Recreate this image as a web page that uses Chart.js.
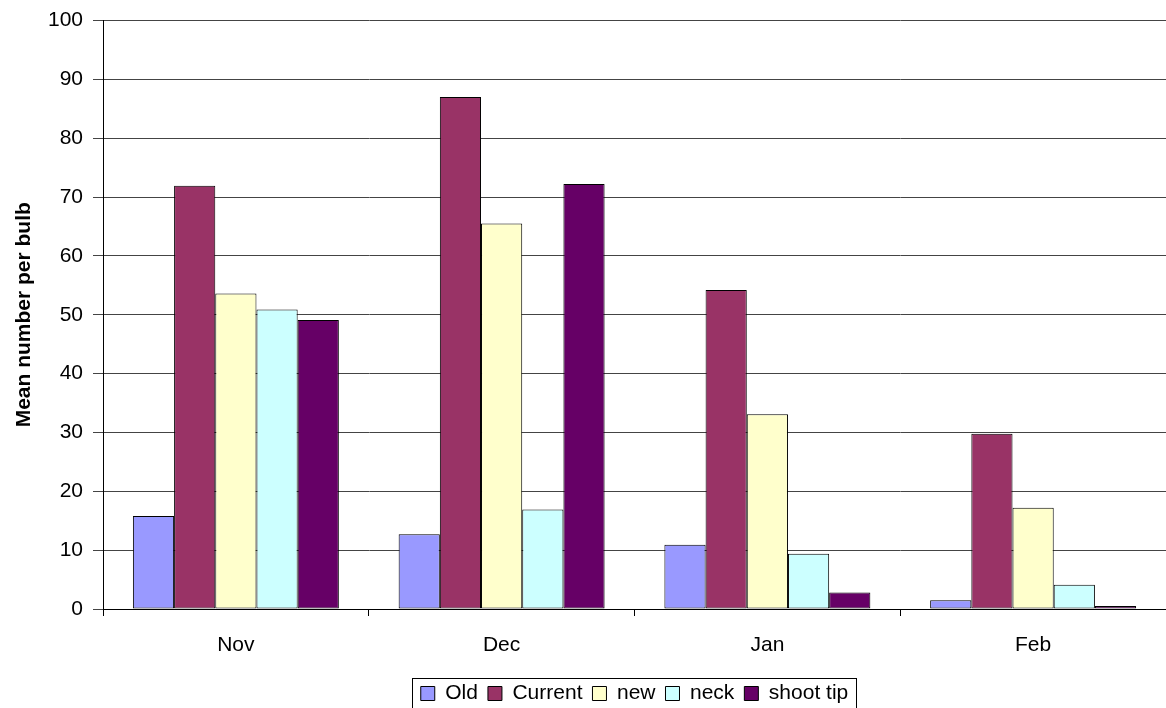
<!DOCTYPE html>
<html>
<head>
<meta charset="utf-8">
<script src="https://cdn.jsdelivr.net/npm/chart.js@4/dist/chart.umd.min.js"></script>
<style>
  html, body { margin: 0; padding: 0; background: #fff; overflow: hidden; }
  #wrap { width: 1166px; height: 714px; }
</style>
</head>
<body>
<div id="wrap"><canvas id="bulbChart" width="1166" height="714"></canvas></div>
<script>
// months sampled
const months = ['Nov', 'Dec', 'Jan', 'Feb'];

// mean number per bulb, one array per tissue
const oldVals      = [15.8, 12.7, 10.9, 1.5];
const currentVals  = [71.9, 87.0, 54.2, 29.8];
const newVals      = [53.6, 65.5, 33.1, 17.2];
const neckVals     = [50.9, 16.9, 9.4, 4.1];
const shootTipVals = [49.1, 72.2, 2.8, 0.5];

const yTicks = [0, 10, 20, 30, 40, 50, 60, 70, 80, 90, 100];

const FONT = "'Liberation Sans', Arial, sans-serif";

function bar(label, data, color) {
    return {
        label: label,
        data: data,
        backgroundColor: color,
        borderColor: '#000',
        borderWidth: 1,
        borderSkipped: false,
        categoryPercentage: 0.775,
        barPercentage: 1.0
    };
}

// legend centred under the plot area, with a frame round it
const legendFrame = {
    id: 'legendFrame',
    afterUpdate(chart) {
        const lg = chart.legend;
        const area = chart.chartArea;
        lg.left = area.left;
        lg.right = area.right;
        lg.width = area.right - area.left;
        lg.adjustHitBoxes();
    },
    afterDraw(chart) {
        const boxes = chart.legend.legendHitBoxes;
        if (!boxes || !boxes.length) return;
        const left = Math.min(...boxes.map(b => b.left)) - 9;
        const right = Math.max(...boxes.map(b => b.left + b.width)) + 8;
        const ctx = chart.ctx;
        ctx.save();
        ctx.strokeStyle = '#000';
        ctx.lineWidth = 1;
        ctx.strokeRect(Math.round(left) + 0.5, 678.5, Math.round(right - left), 40);
        ctx.restore();
    }
};

const ctx = document.getElementById('bulbChart').getContext('2d');
new Chart(ctx, {
    type: 'bar',
    data: {
        labels: months,
        datasets: [
            bar('Old', oldVals, '#9999FF'),
            bar('Current', currentVals, '#993366'),
            bar('new', newVals, '#FFFFCC'),
            bar('neck', neckVals, '#CCFFFF'),
            bar('shoot tip', shootTipVals, '#660066')
        ]
    },
    options: {
        responsive: false,
        animation: false,
        layout: { padding: { top: 19, right: 0, bottom: 0, left: 0 } },
        plugins: {
            legend: {
                position: 'bottom',
                labels: {
                    color: '#000',
                    font: { family: FONT, size: 21 },
                    boxWidth: 14,
                    boxHeight: 14,
                    padding: 10
                }
            },
            tooltip: { enabled: false }
        },
        scales: {
            x: {
                grid: {
                    display: true,
                    drawOnChartArea: false,
                    drawTicks: true,
                    tickLength: 7,
                    color: '#000'
                },
                border: { display: true, color: '#000', width: 1 },
                ticks: {
                    color: '#000',
                    font: { family: FONT, size: 21 },
                    padding: 17
                },
                afterFit(scale) { scale.height = 64; }
            },
            y: {
                min: 0,
                max: 100,
                afterBuildTicks(scale) {
                    scale.ticks = yTicks.map(v => ({ value: v }));
                },
                grid: {
                    color: '#444',
                    lineWidth: 1,
                    drawTicks: true,
                    tickLength: 10
                },
                border: { display: true, color: '#000', width: 1 },
                ticks: {
                    color: '#000',
                    font: { family: FONT, size: 21, lineHeight: 1 },
                    padding: 10
                },
                title: {
                    display: true,
                    text: 'Mean number per bulb',
                    color: '#000',
                    font: { family: FONT, size: 21, weight: 'bold' },
                    padding: { top: 12, bottom: 0 }
                },
                afterFit(scale) { scale.width = 103; }
            }
        }
    },
    plugins: [legendFrame]
});
</script>
</body>
</html>
